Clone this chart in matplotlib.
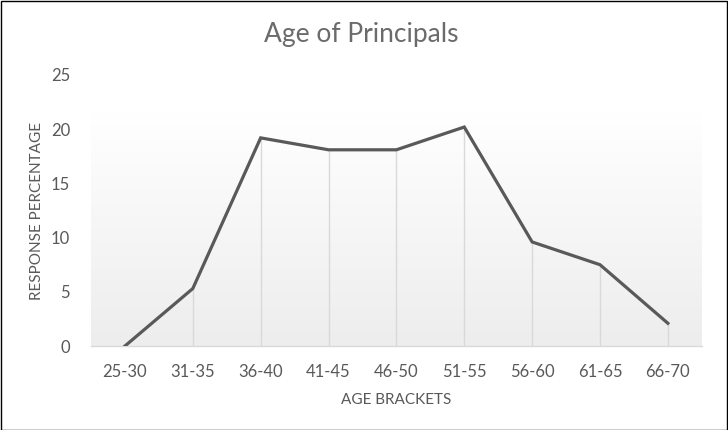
import numpy as np
import matplotlib
matplotlib.use("Agg")
import matplotlib.pyplot as plt
from matplotlib.patches import Rectangle
from matplotlib.colors import LinearSegmentedColormap

# data
age_brackets = ["25-30", "31-35", "36-40", "41-45", "46-50", "51-55", "56-60", "61-65", "66-70"]
response_pct = [0, 5.3, 19.2, 18.1, 18.1, 20.2, 9.6, 7.5, 2.1]
y_ticks = [0, 5, 10, 15, 20, 25]

plt.rcParams["font.family"] = ["Lato", "DejaVu Sans"]
text_gray = "#595959"

fig = plt.figure(figsize=(7.28, 4.30), dpi=100)
ax = fig.add_axes([0.125, 0.1953, 0.839, 0.6303])

x = np.arange(len(age_brackets))

# soft gradient behind the plot area
grad = LinearSegmentedColormap.from_list("bg", ["#ededed", "#ffffff"])
ax.imshow(np.linspace(0, 1, 256).reshape(-1, 1), cmap=grad, aspect="auto",
          extent=(-0.5, len(age_brackets) - 0.5, 0, 21.5), origin="lower", zorder=0)

# drop lines from each point to the axis
ax.vlines(x, 0, response_pct, colors="#d9d9d9", linewidth=1.0, zorder=1)
ax.plot(x, response_pct, color="#595959", linewidth=2.3, solid_joinstyle="miter", zorder=3)

ax.set_xlim(-0.5, len(age_brackets) - 0.5)
ax.set_ylim(0, 25)
ax.set_xticks(x)
ax.set_xticklabels(age_brackets)
ax.set_yticks(y_ticks)

for side in ["top", "right", "left"]:
    ax.spines[side].set_visible(False)
ax.spines["bottom"].set_color("#d9d9d9")
ax.spines["bottom"].set_linewidth(1.0)
ax.tick_params(axis="both", length=0, labelsize=12, colors=text_gray)
ax.tick_params(axis="x", pad=13)
ax.tick_params(axis="y", pad=15)

ax.set_xlabel("AGE BRACKETS", fontsize=11, color=text_gray, labelpad=9)
ax.set_ylabel("RESPONSE PERCENTAGE", fontsize=11, color=text_gray, labelpad=5)
fig.text(0.496, 0.92, "Age of Principals", ha="center", va="center",
         fontsize=19, color="#6b6b6b")

# thin frame round the whole picture
fig.patches.append(Rectangle((0.001, 0.001), 0.997, 0.997, transform=fig.transFigure,
                             fill=False, edgecolor="black", linewidth=1.0))

fig.savefig("out.png", dpi=100)
